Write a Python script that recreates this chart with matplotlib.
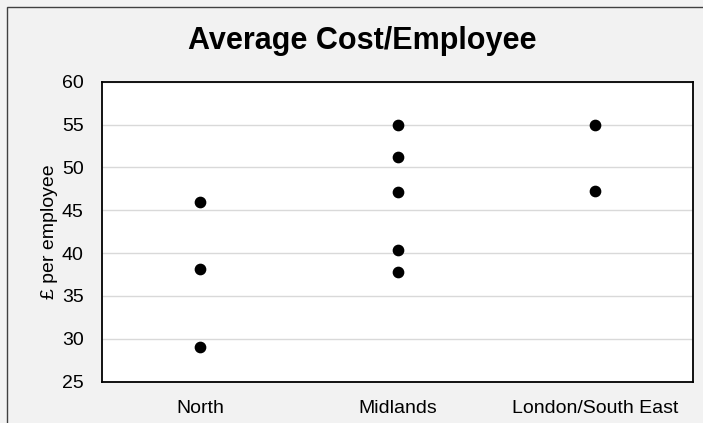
import matplotlib.pyplot as plt
from matplotlib.patches import Rectangle

plt.rcParams['font.family'] = ['Liberation Sans', 'DejaVu Sans']

regions = ["North", "Midlands", "London/South East"]
north = [46.0, 38.1, 29.1]
midlands = [54.9, 51.2, 47.1, 40.4, 37.8]
london = [54.9, 47.3]
yticks = [25, 30, 35, 40, 45, 50, 55, 60]

fig = plt.figure(figsize=(7.03, 4.23), dpi=100, facecolor='#F2F2F2')
ax = fig.add_axes([0.1447, 0.0976, 0.8415, 0.7093])
ax.set_facecolor('white')

for i, vals in enumerate([north, midlands, london]):
    ax.scatter([i + 0.5] * len(vals), vals, s=55, color='black', zorder=3)

ax.set_xlim(0, 3)
ax.set_ylim(25, 60)
ax.set_yticks(yticks)
ax.set_xticks([0.5, 1.5, 2.5])
ax.set_xticklabels(regions)
ax.tick_params(length=0, labelsize=14, colors='black')
ax.tick_params(axis='y', pad=13)
ax.tick_params(axis='x', pad=13)
ax.grid(axis='y', color='#D9D9D9', lw=1)
ax.set_axisbelow(True)
for s in ax.spines.values():
    s.set_linewidth(1.3)
    s.set_color('black')

ax.set_ylabel("£ per employee", fontsize=14, labelpad=3)
fig.text(362 / 703, 1 - 41 / 423, "Average Cost/Employee", ha='center', va='center',
         fontsize=22, fontweight='bold')

# chart outer border (cut off at right and bottom)
fig.patches.append(Rectangle((7.5 / 703, -0.1), 1.2, 1 - 7.5 / 423 + 0.1,
                             transform=fig.transFigure, fill=False,
                             edgecolor='#404040', lw=1))

plt.savefig("out.png", dpi=100, facecolor=fig.get_facecolor())
